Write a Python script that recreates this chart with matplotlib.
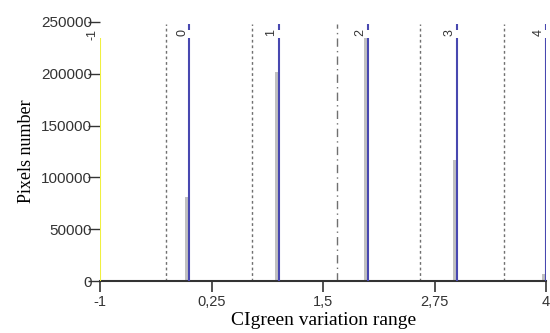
import matplotlib
matplotlib.use("Agg")
import matplotlib.pyplot as plt

# class centres and histogram counts
classes = [-1, 0, 1, 2, 3, 4]
class_labels = ["-1", "0", "1", "2", "3", "4"]
counts = [0, 81000, 202000, 235000, 117000, 7000]
line_colors = ["#f0f040", "#4848b0", "#4848b0", "#4848b0", "#4848b0", "#4848b0"]
# class boundaries (dotted), the 4th one is dashed
bounds = [-1.2, -0.26, 0.7, 1.65, 2.59, 3.53]
bound_styles = [(0, (2, 2)), (0, (2, 2)), (0, (2, 2)), (0, (6, 3, 1, 3)), (0, (2, 2)), (0, (2, 2))]
xticks = [-1, 0.25, 1.5, 2.75, 4]
xtick_labels = ["-1", "0,25", "1,5", "2,75", "4"]
yticks = [0, 50000, 100000, 150000, 200000, 250000]

fig = plt.figure(figsize=(5.5, 3.33), dpi=100)
ax = fig.add_axes([0.182, 0.156, 0.811, 0.778])

# gray histogram bars just left of each class line
bar_w = 0.045
ax.bar([c - bar_w for c in classes], counts, width=bar_w, align="edge",
       color="#c0c0c0", linewidth=0, zorder=2)

for x, c in zip(classes, line_colors):
    ax.vlines(x, 0, 235000, color=c, linewidth=1.5, zorder=3)
    if x > -1:
        ax.vlines(x, 242000, 248000, color=c, linewidth=1.5, zorder=3)

for x, lab in zip(classes, class_labels):
    ax.text(x - 0.08, 243500, lab, rotation=90, ha="center", va="top",
            fontsize=9, family="Liberation Sans", color="#333333")

for x, st in zip(bounds, bound_styles):
    ax.vlines(x, 0, 248000, color="#707070", linewidth=1, linestyles=[st], zorder=1)

ax.set_xlim(-1, 4)
ax.set_ylim(0, 250000)
ax.set_xticks(xticks)
ax.set_xticklabels(xtick_labels, family="Liberation Sans", fontsize=10.5, color="#333333")
ax.set_yticks(yticks)
ax.set_yticklabels([str(v) for v in yticks], family="Liberation Sans", fontsize=11, color="#333333")
ax.tick_params(axis="y", length=9, width=1, color="#333333", pad=-3)
ax.tick_params(axis="x", length=8, width=1.2, color="#333333", pad=2)

for s in ["top", "right", "left"]:
    ax.spines[s].set_visible(False)
ax.spines["bottom"].set_linewidth(1.5)
ax.spines["bottom"].set_color("#333333")
ax.patch.set_visible(False)

ax.set_xlabel("CIgreen variation range", family="Liberation Serif", fontsize=14, labelpad=2)
ax.set_ylabel("Pixels number", family="Liberation Serif", fontsize=13, labelpad=4)

fig.savefig("out.png", dpi=100)
